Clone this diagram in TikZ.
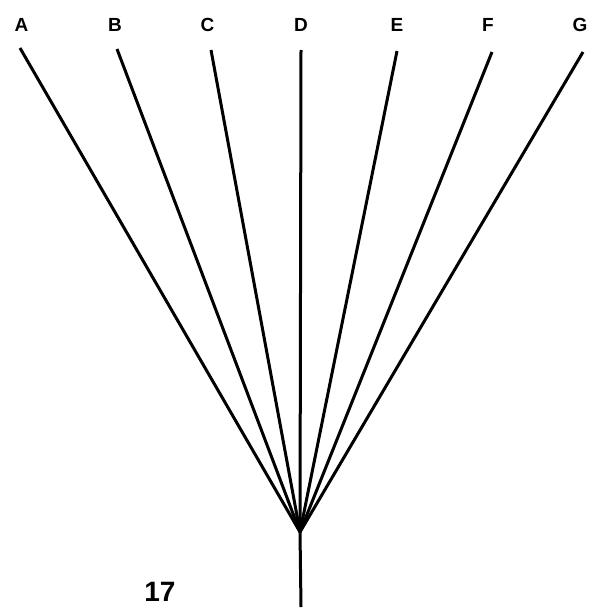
\documentclass[tikz,border=0pt]{standalone}
\usepackage{fontspec}
\setmainfont{Liberation Sans}
\begin{document}
\begin{tikzpicture}[x=1pt,y=-1pt,
  lbl/.style={font=\fontsize{19}{19}\selectfont\bfseries, inner sep=0pt},
  ray/.style={line width=3pt, line cap=butt},
  num/.style={font=\fontsize{28}{28}\selectfont\bfseries, inner sep=0pt}]
\useasboundingbox (0,0) rectangle (603,610);
\node[lbl] (lA) at (21.5,25) {A};
\node[lbl] (lB) at (115,25) {B};
\node[lbl] (lC) at (207.5,25) {C};
\node[lbl] (lD) at (301,25) {D};
\node[lbl] (lE) at (397,25) {E};
\node[lbl] (lF) at (488,25) {F};
\node[lbl] (lG) at (580,25) {G};
\coordinate (tA) at (20,48);
\coordinate (tB) at (117,49);
\coordinate (tC) at (211,50);
\coordinate (tD) at (301,50);
\coordinate (tE) at (397,51);
\coordinate (tF) at (492,52);
\coordinate (tG) at (583,52);
\coordinate (hub) at (300,532);
\coordinate (bot) at (301,607);
\foreach \t in {tA,tB,tC,tD,tE,tF,tG}
  \draw[ray] (\t) -- (hub);
\fill (hub) ++(-5,-10) -- (hub) -- ++(5,-10) -- cycle;
\draw[ray] (hub) -- (bot);
\node[num] (n17) at (160,592) {17};
\end{tikzpicture}
\end{document}
